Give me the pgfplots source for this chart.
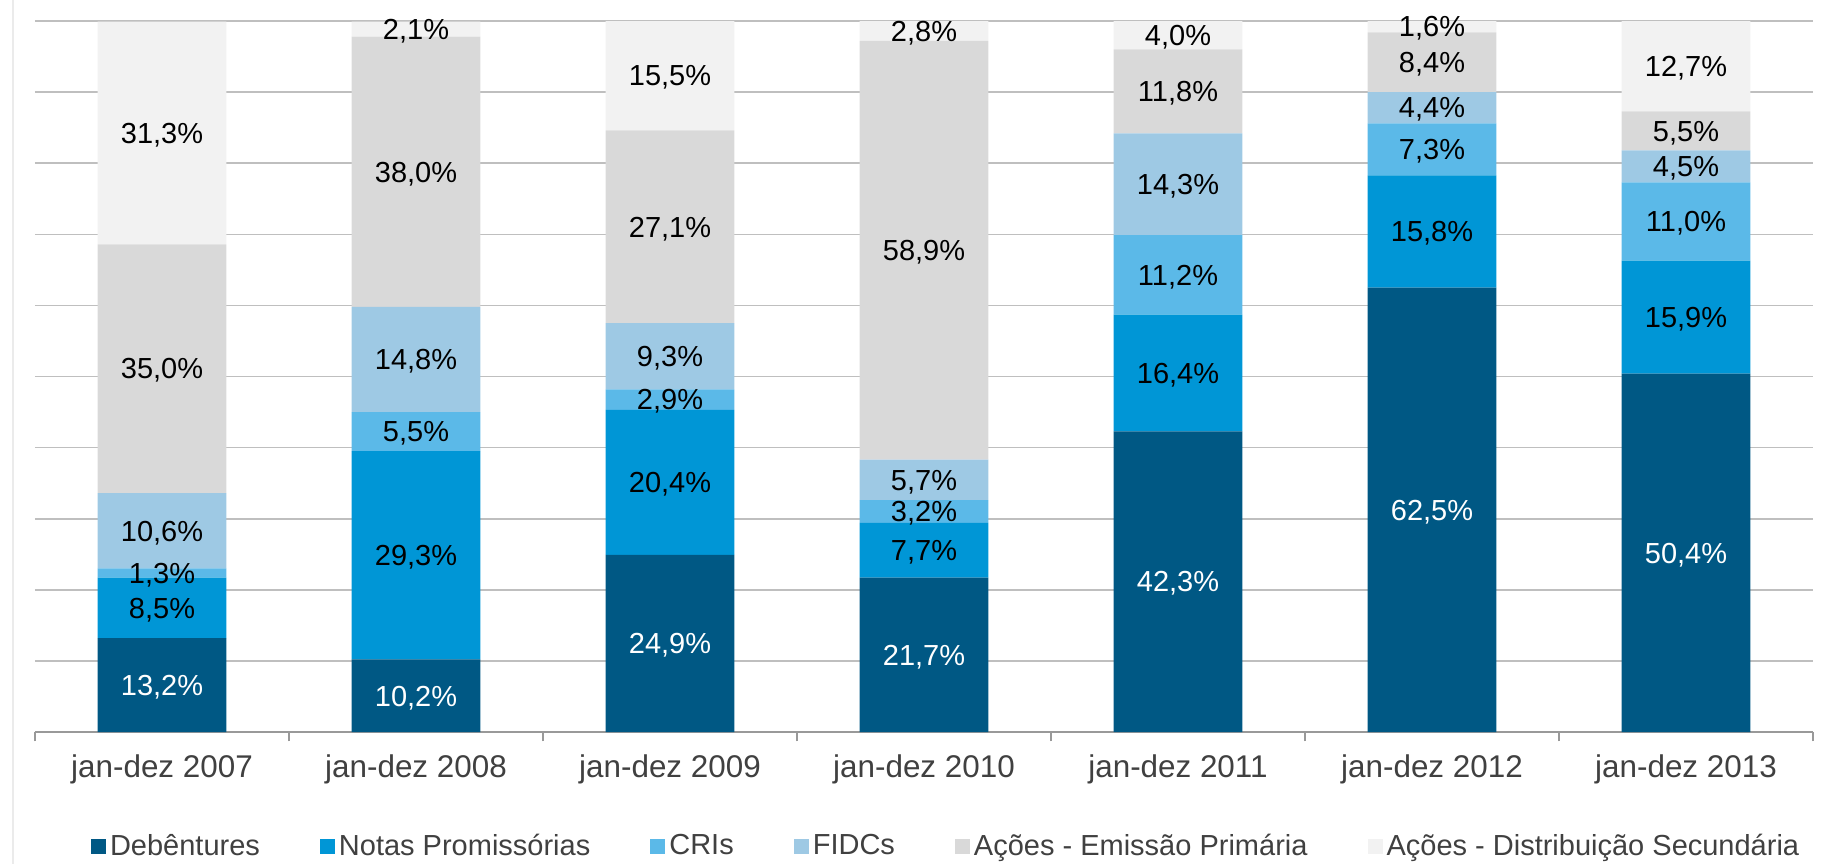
\documentclass[border=0pt]{standalone}
\usepackage{pgfplots}
\pgfplotsset{compat=1.18}
\usepackage{fontspec}
\setmainfont{Liberation Sans}
\definecolor{cDeb}{RGB}{0,88,132}
\definecolor{cNP}{RGB}{0,150,214}
\definecolor{cCRI}{RGB}{91,185,232}
\definecolor{cFIDC}{RGB}{158,201,228}
\definecolor{cPrim}{RGB}{217,217,217}
\definecolor{cSec}{RGB}{242,242,242}
\definecolor{txt}{RGB}{64,64,64}
\definecolor{gridc}{RGB}{191,191,191}
\newcommand{\lblfont}{\fontsize{14.5}{17}\selectfont}
\newcommand{\tickfont}{\fontsize{15.7}{18}\selectfont}
\begin{document}
\begin{tikzpicture}
\useasboundingbox (-17.5pt,-66pt) rectangle (906.5pt,366pt);
\draw[black!8, line width=1pt] (-11pt,-66pt) -- (-11pt,366pt);
\begin{axis}[
  name=main,
  scale only axis, width=889pt, height=355.5pt,
  ybar stacked, bar width=0.506,
  xmin=-0.5, xmax=6.5, ymin=0, ymax=100,
  axis x line*=bottom, axis y line*=left,
  x axis line style={draw=black!40, line width=0.9pt, -},
  y axis line style={draw=none},
  ytick={0,10,...,100}, yticklabels={}, ytick style={draw=none},
  yticklabel style={inner sep=0pt},
  ymajorgrids, grid style={draw=gridc, line width=0.8pt},
  xtick={0,...,6},
  xticklabels={jan-dez 2007,jan-dez 2008,jan-dez 2009,jan-dez 2010,jan-dez 2011,jan-dez 2012,jan-dez 2013},
  major x tick style={draw=none},
  minor xtick={-0.5,0.5,...,6.5},
  minor x tick style={draw=black!40, line width=0.9pt},
  minor tick length=4.7pt, major tick length=0pt,
  tick align=outside,
  xticklabel style={font=\tickfont, text=txt, yshift=-7.7pt},
  legend columns=6,
  legend style={at={(0.513,0)}, anchor=center, yshift=-57pt, draw=none, fill=none,
    inner sep=0pt, font=\lblfont, text=txt, nodes={inner ysep=0.5pt},
    /tikz/every even column/.append style={column sep=28pt}},
  legend image code/.code={\fill[#1] (0pt,-3.75pt) rectangle (7.5pt,3.75pt);},
]
\addplot[fill=cDeb, draw=none] coordinates {(0,13.2) (1,10.2) (2,24.9) (3,21.7) (4,42.3) (5,62.5) (6,50.4)};
\addlegendentry{Debêntures}
\addplot[fill=cNP, draw=none] coordinates {(0,8.5) (1,29.3) (2,20.4) (3,7.7) (4,16.4) (5,15.8) (6,15.9)};
\addlegendentry{Notas Promissórias}
\addplot[fill=cCRI, draw=none] coordinates {(0,1.3) (1,5.5) (2,2.9) (3,3.2) (4,11.2) (5,7.3) (6,11.0)};
\addlegendentry{CRIs}
\addplot[fill=cFIDC, draw=none] coordinates {(0,10.6) (1,14.8) (2,9.3) (3,5.7) (4,14.3) (5,4.4) (6,4.5)};
\addlegendentry{FIDCs}
\addplot[fill=cPrim, draw=none] coordinates {(0,35.0) (1,38.0) (2,27.1) (3,58.9) (4,11.8) (5,8.4) (6,5.5)};
\addlegendentry{Ações - Emissão Primária}
\addplot[fill=cSec, draw=none] coordinates {(0,31.3) (1,2.1) (2,15.5) (3,2.8) (4,4.0) (5,1.6) (6,12.7)};
\addlegendentry{Ações - Distribuição Secundária}
\end{axis}
\begin{axis}[
  scale only axis, width=889pt, height=355.5pt,
  xmin=-0.5, xmax=6.5, ymin=0, ymax=100,
  hide axis, clip=false,
  every node near coord/.append style={anchor=center, font=\lblfont, inner sep=0pt, yshift=-1pt},
]
\addplot[draw=none, no marks, nodes near coords, point meta=explicit symbolic,
  every node near coord/.append style={text=white}] coordinates {
 (0,6.6) [13,2\%] (1,5.1) [10,2\%] (2,12.45) [24,9\%] (3,10.85) [21,7\%]
 (4,21.15) [42,3\%] (5,31.25) [62,5\%] (6,25.2) [50,4\%]};
\addplot[draw=none, no marks, nodes near coords, point meta=explicit symbolic,
  every node near coord/.append style={text=black}] coordinates {
 (0,17.45) [8,5\%] (0,22.35) [1,3\%] (0,28.3) [10,6\%] (0,51.1) [35,0\%] (0,84.25) [31,3\%]
 (1,24.85) [29,3\%] (1,42.25) [5,5\%] (1,52.4) [14,8\%] (1,78.8) [38,0\%] (1,98.85) [2,1\%]
 (2,35.1) [20,4\%] (2,46.75) [2,9\%] (2,52.85) [9,3\%] (2,71.05) [27,1\%] (2,92.35) [15,5\%]
 (3,25.55) [7,7\%] (3,31.0) [3,2\%] (3,35.45) [5,7\%] (3,67.75) [58,9\%] (3,98.6) [2,8\%]
 (4,50.5) [16,4\%] (4,64.3) [11,2\%] (4,77.05) [14,3\%] (4,90.1) [11,8\%] (4,98.0) [4,0\%]
 (5,70.4) [15,8\%] (5,81.95) [7,3\%] (5,87.8) [4,4\%] (5,94.2) [8,4\%] (5,99.2) [1,6\%]
 (6,58.35) [15,9\%] (6,71.8) [11,0\%] (6,79.55) [4,5\%] (6,84.55) [5,5\%] (6,93.65) [12,7\%]};
\end{axis}
\end{tikzpicture}
\end{document}
